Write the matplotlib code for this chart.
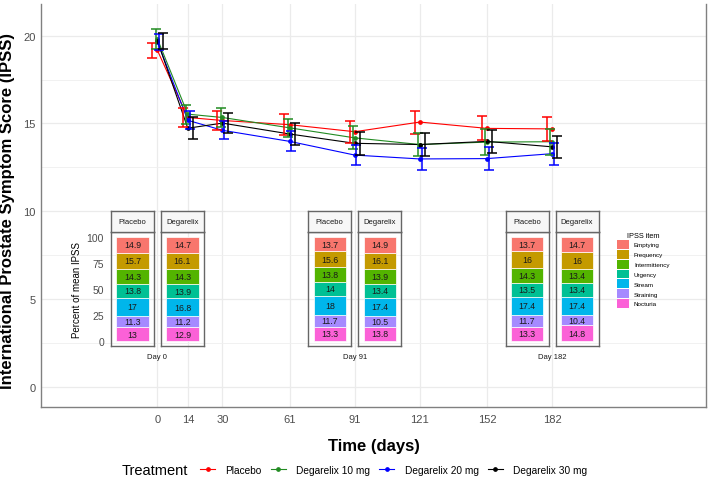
import numpy as np
import matplotlib
matplotlib.use("Agg")
import matplotlib.pyplot as plt
from matplotlib.patches import Patch

plt.rcParams['font.family'] = ['Liberation Sans', 'DejaVu Sans']

# main chart: mean IPSS with 95% CI by visit
days = [0, 14, 30, 61, 91, 121, 152, 182]
treatments = ['Placebo', 'Degarelix 10 mg', 'Degarelix 20 mg', 'Degarelix 30 mg']
colors = ['#FF0000', '#228B22', '#0000FF', '#000000']

placebo_mean = [19.16, 15.34, 15.17, 14.93, 14.53, 15.08, 14.72, 14.69]
placebo_lo = [18.72, 14.80, 14.64, 14.32, 13.90, 14.42, 14.04, 14.02]
placebo_hi = [19.60, 15.88, 15.69, 15.53, 15.16, 15.73, 15.40, 15.36]

deg10_mean = [19.81, 15.53, 15.34, 14.75, 14.18, 13.80, 13.94, 13.96]
deg10_lo = [19.26, 14.98, 14.79, 14.22, 13.52, 13.14, 13.18, 13.22]
deg10_hi = [20.36, 16.07, 15.88, 15.27, 14.83, 14.45, 14.70, 14.70]

deg20_mean = [19.64, 15.18, 14.61, 13.98, 13.20, 12.98, 13.00, 13.28]
deg20_lo = [19.20, 14.66, 14.09, 13.41, 12.65, 12.36, 12.33, 12.65]
deg20_hi = [20.07, 15.69, 15.12, 14.55, 13.75, 13.60, 13.66, 13.90]

deg30_mean = [19.70, 14.73, 15.02, 14.40, 13.87, 13.80, 13.98, 13.67]
deg30_lo = [19.22, 14.09, 14.47, 13.75, 13.22, 13.14, 13.31, 13.05]
deg30_hi = [20.17, 15.36, 15.57, 15.04, 14.51, 14.45, 14.64, 14.28]

means = [placebo_mean, deg10_mean, deg20_mean, deg30_mean]
los = [placebo_lo, deg10_lo, deg20_lo, deg30_lo]
his = [placebo_hi, deg10_hi, deg20_hi, deg30_hi]

# inset: percent of mean IPSS per item (top to bottom)
items = ['Emptying', 'Frequency', 'Intermittency', 'Urgency', 'Stream', 'Straining', 'Nocturia']
item_colors = ['#F8766D', '#C49A00', '#53B400', '#00C094', '#00B6EB', '#A58AFF', '#FB61D7']
inset_days = [0, 91, 182]
inset_arms = ['Placebo', 'Degarelix']
pct_placebo = [
    [14.9, 15.7, 14.3, 13.8, 17.0, 11.3, 13.0],
    [13.7, 15.6, 13.8, 14.0, 18.0, 11.7, 13.3],
    [13.7, 16.0, 14.3, 13.5, 17.4, 11.7, 13.3],
]
pct_degarelix = [
    [14.7, 16.1, 14.3, 13.9, 16.8, 11.2, 12.9],
    [14.9, 16.1, 13.9, 13.4, 17.4, 10.5, 13.8],
    [14.7, 16.0, 13.4, 13.4, 17.4, 10.4, 14.8],
]

W, H = 708, 485
fig = plt.figure(figsize=(W / 100, H / 100), dpi=100)
ax = fig.add_axes([41 / W, 1 - 408 / H, 665 / W, 403 / H])

dodge = [-2.4, -0.8, 0.8, 2.4]
handles = []
for i in range(4):
    m = np.array(means[i])
    lo = np.array(los[i])
    hi = np.array(his[i])
    ln, = ax.plot(days, m, color=colors[i], lw=0.8, marker='o', ms=2.4, zorder=3)
    ax.errorbar(np.array(days) + dodge[i], m, yerr=[m - lo, hi - m], fmt='none',
                ecolor=colors[i], elinewidth=1.1, capsize=3.5, capthick=1.1, zorder=4)
    handles.append(ln)

ax.set_xlim(-53.7, 253)
ax.set_ylim(-1.14, 21.8)
ax.set_xticks(days)
ax.set_yticks([0, 5, 10, 15, 20])
ax.set_yticks([2.5, 7.5, 12.5, 17.5], minor=True)
ax.grid(which='major', color='#EBEBEB', lw=0.9)
ax.yaxis.grid(which='minor', color='#EFEFEF', lw=0.6)
ax.set_axisbelow(True)
ax.tick_params(which='both', length=0)
ax.tick_params(axis='x', labelsize=8, labelcolor='#4D4D4D', pad=5)
ax.tick_params(axis='y', labelsize=8, labelcolor='#4D4D4D', pad=4)
ax.spines['top'].set_visible(False)
for s in ['left', 'bottom', 'right']:
    ax.spines[s].set_color('#808080')
    ax.spines[s].set_linewidth(1.0)
ax.set_xlabel('Time (days)', fontsize=12, fontweight='bold', labelpad=10)
ax.set_ylabel('International Prostate Symptom Score (IPSS)', fontsize=12,
              fontweight='bold')
ax.yaxis.set_label_coords(-26 / 665, 0.49)

# treatment legend at the bottom
fig.text(122 / W, 1 - 471 / H, 'Treatment', fontsize=10.5, ha='left', va='center')
fig.legend(handles, treatments, loc='center left', bbox_to_anchor=(200 / W, 1 - 471 / H),
           ncol=4, frameon=False, fontsize=7.3, handlelength=1.5, handletextpad=1.0,
           columnspacing=0.9, borderpad=0, borderaxespad=0)

# insets of stacked item percentages
pan_bot, pan_top, strip_top = 347, 233, 212
for k, day in enumerate(inset_days):
    cx = ax.transData.transform((day, 0))[0]
    for j, arm in enumerate(inset_arms):
        left = cx - 46.5 if j == 0 else cx + 3.5
        iax = fig.add_axes([left / W, 1 - pan_bot / H, 43 / W, (pan_bot - pan_top) / H])
        iax.patch.set_alpha(0)
        vals = (pct_placebo if j == 0 else pct_degarelix)[k]
        bottom = 0.0
        for v, c in zip(vals[::-1], item_colors[::-1]):
            iax.bar(0, v, bottom=bottom, width=0.9, color=c, edgecolor='white', lw=0.5)
            iax.text(0, bottom + v / 2, f'{v:g}', ha='center', va='center', fontsize=6.3,
                     color='#1A1A1A')
            bottom += v
        iax.set_xlim(-0.6, 0.6)
        iax.set_ylim(-5, 105)
        iax.set_xticks([])
        iax.set_yticks([0, 25, 50, 75, 100])
        iax.tick_params(length=0, labelsize=7.5, labelcolor='#4D4D4D', pad=5)
        if k == 0 and j == 0:
            iax.set_ylabel('Percent of mean IPSS', fontsize=7, labelpad=3)
        else:
            iax.set_yticklabels([])
        for s in iax.spines.values():
            s.set_color('#666666')
            s.set_linewidth(1.0)
        sax = fig.add_axes([left / W, 1 - pan_top / H, 43 / W, (pan_top - strip_top) / H])
        sax.set_facecolor('#F7F7F7')
        sax.set_xticks([])
        sax.set_yticks([])
        for s in sax.spines.values():
            s.set_color('#666666')
            s.set_linewidth(1.0)
        sax.text(0.5, 0.5, arm, ha='center', va='center', fontsize=5.5,
                 transform=sax.transAxes, color='#1A1A1A')
    fig.text(cx / W, 1 - 357.7 / H, f'Day {day}', ha='center', va='center', fontsize=5.5,
             color='#1A1A1A')

item_handles = [Patch(facecolor=c, edgecolor='none') for c in item_colors]
fig.legend(item_handles, items, title='IPSS item', loc='upper left',
           bbox_to_anchor=(617 / W, 1 - 233 / H), frameon=False, fontsize=4.5,
           title_fontsize=5.3, handlelength=1.92, handleheight=1.8, labelspacing=0.16,
           handletextpad=0.8, borderpad=0, borderaxespad=0)

fig.savefig('out.png', dpi=100)
